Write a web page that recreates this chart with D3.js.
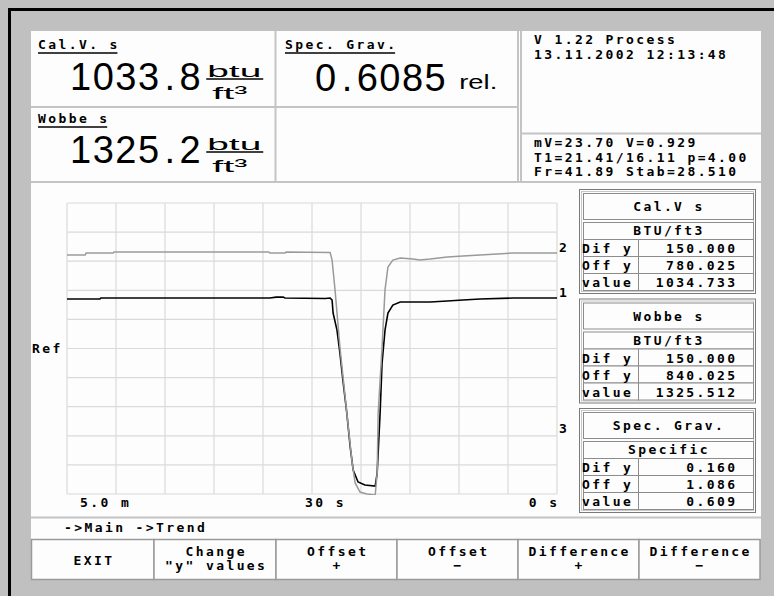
<!DOCTYPE html>
<html><head><meta charset="utf-8">
<script src="https://cdn.jsdelivr.net/npm/d3@7"></script>
<style>html,body{margin:0;padding:0;background:#c0c0c0;overflow:hidden}svg{display:block}</style>
</head><body><svg id="c" width="774" height="596"></svg>
<script>
// ---------------- DATA ----------------
const panelTitles = ["Cal.V. s", "Spec. Grav.", "Wobbe s"];
const panelValues = ["1033.8", "0.6085", "1325.2"];
const panelUnits  = [["btu","ft³"], ["rel."], ["btu","ft³"]];
const statusTop    = ["V 1.22 Process", "13.11.2002 12:13:48"];
const statusBottom = ["mV=23.70 V=0.929", "T1=21.41/16.11 p=4.00", "Fr=41.89 Stab=28.510"];

const tableNames = ["Cal.V s", "Wobbe s", "Spec. Grav."];
const tableUnits = ["BTU/ft3", "BTU/ft3", "Specific"];
const difY   = [150.000, 150.000, 0.160];
const offY   = [780.025, 840.025, 1.086];
const values = [1034.733, 1325.512, 0.609];
const traceIds = ["1", "2", "3"];

const xTickLabels = ["5.0 m", "30 s", "0 s"];
const refLabel = "Ref";

// time position in grid divisions (0 = oldest, 10 = now)
const calvX = [0,0.67,0.69,4.14,4.27,4.41,4.45,5.27,5.37,5.41,5.43,5.51,5.57,5.63,5.71,5.78,5.84,5.94,6.08,6.29,6.33,6.39,6.43,6.49,6.55,6.65,6.80,7.41,7.76,8.08,8.43,9.10,10];
const calvY = [1035,1035,1040,1040,1045,1045,1040,1038,1040,1030,963,875,756,618,448,272,154,92,76,71,138,448,705,875,963,1004,1020,1020,1025,1030,1035,1040,1040];
const wobbeX = [0,0.37,0.39,0.94,0.96,4.12,4.14,4.45,4.47,5.37,5.41,5.47,5.57,5.71,5.82,5.88,5.98,6.12,6.29,6.33,6.35,6.43,6.49,6.55,6.65,6.80,7.06,7.20,7.41,7.76,8.08,8.43,8.78,9.10,10];
const wobbeY = [1322,1322,1332,1332,1337,1337,1332,1332,1337,1335,1296,1142,848,508,250,147,100,90,85,198,508,848,1142,1260,1296,1306,1301,1296,1301,1312,1317,1322,1327,1332,1332];

const footerText = "->Main ->Trend";
const buttonLabels = [["EXIT"], ["Change", "\"y\" values"], ["Offset", "+"], ["Offset", "−"], ["Difference", "+"], ["Difference", "−"]];

// ---------------- DRAW ----------------
const svg = d3.select("#c");
const BM = "'DejaVu Sans Mono', monospace";
const SANS = "'Liberation Sans', Arial, sans-serif";
const LINE = "#c4c4c4";
function bm(sel, size) {
  return sel.attr("font-family", BM).attr("font-weight", "bold")
    .attr("font-size", size || 13).attr("letter-spacing", 2.4).attr("fill", "#000");
}

svg.append("rect").attr("width", 774).attr("height", 596).attr("fill", "#c0c0c0");
// black frame
svg.append("rect").attr("x", 8).attr("y", 8).attr("width", 766).attr("height", 3).attr("fill", "#000");
svg.append("rect").attr("x", 8).attr("y", 8).attr("width", 3).attr("height", 588).attr("fill", "#000");

// white areas
svg.append("rect").attr("x", 31).attr("y", 31).attr("width", 730).attr("height", 508).attr("fill", "#fdfdfd");

// separators
const seps = [
  [275.5, 31, 275.5, 182], [518, 31, 518, 182], [521, 31, 521, 182],
  [31, 107, 518, 107], [521, 133.5, 761, 133.5],
  [31, 182, 761, 182], [31, 517.5, 761, 517.5]
];
svg.append("g").selectAll("line").data(seps).join("line")
  .attr("x1", d => d[0]).attr("y1", d => d[1]).attr("x2", d => d[2]).attr("y2", d => d[3])
  .attr("stroke", LINE).attr("stroke-width", 2);

// ---- top panels ----
const panelPos = [{x: 38, y: 49, vx: 70, vy: 90}, {x: 285, y: 49, vx: 315, vy: 91}, {x: 38, y: 123, vx: 70, vy: 163}];
panelTitles.forEach((t, i) => {
  const p = panelPos[i];
  const tt = bm(svg.append("text"), 13).attr("x", p.x).attr("y", p.y).text(t);
  const w = tt.node().getComputedTextLength();
  svg.append("line").attr("x1", p.x).attr("x2", p.x + w - 2.4).attr("y1", p.y + 4).attr("y2", p.y + 4)
    .attr("stroke", "#000").attr("stroke-width", 1.3);
  const v = svg.append("text").attr("x", p.vx).attr("y", p.vy).attr("font-family", SANS)
    .attr("font-size", 38).attr("letter-spacing", 1.5).attr("fill", "#000");
  const parts = panelValues[i].split(".");
  v.append("tspan").text(parts[0]);
  v.append("tspan").attr("dx", 4).text(".");
  v.append("tspan").attr("dx", 3).text(parts[1]);
  const vEnd = p.vx + v.node().getComputedTextLength() + 7;
  const u = panelUnits[i];
  if (u.length === 2) {
    const lx = vEnd + 4, ly = p.vy - 11;
    svg.append("text").attr("x", lx + 1).attr("y", ly - 2.5).attr("font-family", SANS).attr("font-size", 16)
      .attr("textLength", 54).attr("lengthAdjust", "spacingAndGlyphs").text(u[0]);
    svg.append("line").attr("x1", lx).attr("x2", lx + 57).attr("y1", ly).attr("y2", ly)
      .attr("stroke", "#000").attr("stroke-width", 1.5);
    svg.append("text").attr("x", lx + 6).attr("y", ly + 19.5).attr("font-family", SANS).attr("font-size", 17)
      .attr("textLength", 35).attr("lengthAdjust", "spacingAndGlyphs").text(u[1]);
  } else {
    svg.append("text").attr("x", vEnd + 12).attr("y", p.vy - 2).attr("font-family", SANS).attr("font-size", 21)
      .attr("textLength", 38).attr("lengthAdjust", "spacingAndGlyphs").text(u[0]);
  }
});

// status panel
statusTop.forEach((s, i) => bm(svg.append("text")).attr("x", 534).attr("y", 44 + i * 15).text(s));
statusBottom.forEach((s, i) => bm(svg.append("text")).attr("x", 534).attr("y", 147 + i * 14.5).text(s));

// ---- chart ----
const x = d3.scaleLinear().domain([0, 10]).range([67, 557]);
const yDiv = d3.scaleLinear().domain([-5, 5]).range([494, 203]);
const yScales = difY.map((d, i) => d3.scaleLinear().domain([offY[i] - 5 * d, offY[i] + 5 * d]).range([494, 203]));

const grid = svg.append("g").attr("stroke", "#dadada").attr("stroke-width", 1.2);
grid.selectAll(".v").data(x.ticks(10)).join("line").attr("class", "v")
  .attr("x1", d => x(d)).attr("x2", d => x(d)).attr("y1", yDiv(5)).attr("y2", yDiv(-5));
grid.selectAll(".h").data(yDiv.ticks(10)).join("line").attr("class", "h")
  .attr("y1", d => yDiv(d)).attr("y2", d => yDiv(d)).attr("x1", x(0)).attr("x2", x(10));

bm(svg.append("text")).attr("x", 32).attr("y", yDiv(0) + 4.5).text(refLabel);

const xAnch = [{at: 0, dx: 13, a: "start"}, {at: 5, dx: -7, a: "start"}, {at: 10, dx: 2.4, a: "end"}];
xTickLabels.forEach((t, i) => bm(svg.append("text")).attr("x", x(xAnch[i].at) + xAnch[i].dx)
  .attr("y", 507).attr("text-anchor", xAnch[i].a).text(t));

svg.append("clipPath").attr("id", "pc").append("rect")
  .attr("x", x(0)).attr("y", yDiv(5) - 1).attr("width", x(10) - x(0)).attr("height", yDiv(-5) - yDiv(5) + 2);

const calv = calvX.map((v, i) => [v, calvY[i]]);
const wob = wobbeX.map((v, i) => [v, wobbeY[i]]);
const lineCal = d3.line().x(d => x(d[0])).y(d => yScales[0](d[1]));
const lineWob = d3.line().x(d => x(d[0])).y(d => yScales[1](d[1]));
const plot = svg.append("g").attr("clip-path", "url(#pc)");
plot.append("path").attr("d", lineCal(calv)).attr("fill", "none").attr("stroke", "#000").attr("stroke-width", 1.6);
plot.append("path").attr("d", lineWob(wob)).attr("fill", "none").attr("stroke", "#9a9a9a").attr("stroke-width", 1.5);

traceIds.forEach((t, i) => bm(svg.append("text")).attr("x", 559).attr("y", yScales[i](values[i]) - 2.5).text(t));

// ---- side tables ----
const fmt = d3.format(".3f");
tableNames.forEach((name, k) => {
  const T = 189 + k * 109.5;
  const g = svg.append("g");
  g.append("rect").attr("x", 579.5).attr("y", T + 0.5).attr("width", 176).attr("height", 104)
    .attr("fill", "none").attr("stroke", "#7a7a7a");
  g.append("rect").attr("x", 581.5).attr("y", T + 2.5).attr("width", 172).attr("height", 100)
    .attr("fill", "none").attr("stroke", "#c8c8c8");
  const cells = [[583, T + 4, 170, 26], [583, T + 33, 170, 17],
    [583, T + 50, 55, 17], [638, T + 50, 115, 17],
    [583, T + 67, 55, 17], [638, T + 67, 115, 17],
    [583, T + 84, 55, 17], [638, T + 84, 115, 17]];
  g.selectAll(".cell").data(cells).join("rect").attr("class", "cell")
    .attr("x", d => d[0] + 0.5).attr("y", d => d[1] + 0.5).attr("width", d => d[2]).attr("height", d => d[3])
    .attr("fill", "#fdfdfd").attr("stroke", "#8c8c8c").attr("stroke-width", 1);
  bm(g.append("text")).attr("x", 669).attr("y", T + 22).attr("text-anchor", "middle").text(name);
  bm(g.append("text")).attr("x", 669).attr("y", T + 46).attr("text-anchor", "middle").text(tableUnits[k]);
  const rows = [["Dif y", difY[k]], ["Off y", offY[k]], ["value", values[k]]];
  rows.forEach((r, j) => {
    bm(g.append("text")).attr("x", 582).attr("y", T + 64 + j * 17).text(r[0]);
    bm(g.append("text")).attr("x", 737.5).attr("y", T + 64 + j * 17).attr("text-anchor", "end").text(fmt(r[1]));
  });
});

// ---- footer ----
bm(svg.append("text")).attr("x", 64).attr("y", 531.5).text(footerText);
svg.append("rect").attr("x", 31).attr("y", 539).attr("width", 730).attr("height", 57).attr("fill", "#c0c0c0");
const bx = [31.5, 154, 276, 397, 518, 639, 760];
buttonLabels.forEach((lbl, i) => {
  svg.append("rect").attr("x", bx[i]).attr("y", 539.5).attr("width", bx[i + 1] - bx[i]).attr("height", 40)
    .attr("fill", "#fdfdfd").attr("stroke", "#9a9a9a").attr("stroke-width", 1.5);
  const cx = (bx[i] + bx[i + 1]) / 2 + 1.2;
  if (lbl.length === 1) {
    bm(svg.append("text")).attr("x", cx).attr("y", 565).attr("text-anchor", "middle").text(lbl[0]);
  } else {
    lbl.forEach((l, j) => bm(svg.append("text")).attr("x", cx).attr("y", 556 + j * 14).attr("text-anchor", "middle").text(l));
  }
});
</script></body></html>
